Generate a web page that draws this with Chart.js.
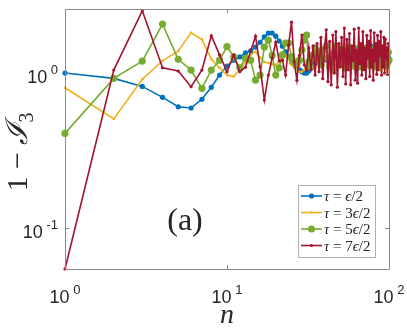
<!DOCTYPE html>
<html><head><meta charset="utf-8">
<script src="https://cdn.jsdelivr.net/npm/chart.js@4"></script>
<style>html,body{margin:0;padding:0;background:#fff;overflow:hidden}</style>
</head><body>
<canvas id="c" width="407" height="332" style="width:407px;height:332px;display:block"></canvas>
<script>
// ---- data ----
const n = Array.from({length: 100}, (_, i) => i + 1);

const tau1 = [1.00,0.924,0.82,0.697,0.606,0.595,0.677,0.809,0.97,1.11,
1.21,1.27,1.35,1.39,1.47,1.58,1.71,1.81,1.81,1.73,
1.61,1.49,1.37,1.27,1.18,1.13,1.09,1.05,1.02,1.00,
1.00,1.03,1.08,1.13,1.16,1.20,1.22,1.24,1.25,1.24,
1.22,1.20,1.18,1.20,1.24,1.28,1.30,1.27,1.22,1.17,
1.13,1.12,1.15,1.20,1.26,1.31,1.33,1.29,1.22,1.15,
1.10,1.08,1.07,1.08,1.10,1.12,1.10,1.08,1.10,1.15,
1.22,1.30,1.38,1.45,1.50,1.52,1.50,1.46,1.41,1.35,
1.30,1.26,1.25,1.27,1.30,1.28,1.24,1.20,1.18,1.17,
1.17,1.18,1.20,1.23,1.26,1.29,1.31,1.30,1.27,1.24];

const tau3 = [0.804,0.505,0.911,1.20,1.39,1.82,1.65,1.23,1.08,0.97,
0.95,1.06,1.17,1.31,1.37,1.26,1.18,1.16,1.14,1.13,
1.18,1.27,1.29,1.22,1.13,1.08,1.05,1.02,1.02,1.05,
1.12,1.20,1.26,1.30,1.27,1.20,1.14,1.18,1.25,1.30,
1.26,1.19,1.13,1.17,1.24,1.29,1.25,1.18,1.12,1.16,
1.23,1.28,1.24,1.16,1.10,1.14,1.21,1.27,1.23,1.15,
1.08,1.06,1.12,1.20,1.26,1.22,1.14,1.08,1.11,1.19,
1.27,1.30,1.24,1.16,1.10,1.14,1.22,1.28,1.25,1.17,
1.10,1.08,1.13,1.21,1.27,1.24,1.16,1.09,1.05,1.07,
1.14,1.22,1.27,1.23,1.15,1.08,1.05,1.10,1.18,1.24];

const tau5 = [0.408,0.924,1.195,2.07,1.226,1.045,0.797,1.045,1.21,1.48,
1.27,1.08,1.25,1.21,0.90,0.97,1.47,1.63,1.30,0.97,
1.08,1.31,1.56,1.56,1.27,1.18,1.13,1.21,1.41,1.63,
1.76,1.18,1.09,1.31,1.45,1.21,1.37,1.13,1.27,1.41,
1.50,1.25,1.10,1.15,1.05,1.35,1.48,1.30,1.12,1.24,
1.42,1.36,1.15,1.08,1.20,1.40,1.45,1.28,1.12,1.18,
1.35,1.44,1.30,1.14,1.10,1.26,1.42,1.38,1.20,1.12,
1.22,1.40,1.46,1.32,1.15,1.12,1.28,1.43,1.36,1.18,
1.10,1.20,1.38,1.45,1.30,1.14,1.16,1.34,1.44,1.32,
1.16,1.12,1.26,1.42,1.40,1.22,1.12,1.20,1.36,1.21];

const tau7 = [0.0544,1.045,2.52,1.08,1.03,0.816,1.045,1.74,1.31,1.02,
1.31,1.02,1.09,1.39,1.73,1.10,0.67,0.97,1.25,1.58,
1.20,1.21,0.97,1.52,2.13,1.18,0.90,1.30,1.76,1.13,
1.05,1.45,1.05,1.50,0.97,1.55,1.02,1.70,0.92,1.45,
1.90,0.88,1.60,0.84,1.76,1.00,1.85,0.81,1.55,1.10,
1.70,0.95,1.95,0.85,1.65,1.05,1.80,0.84,1.50,1.20,
1.92,0.90,1.40,0.86,1.95,1.15,1.55,0.97,1.85,1.05,
1.45,0.92,1.75,1.25,1.60,0.95,1.88,1.10,1.40,0.90,
1.82,1.20,1.55,0.98,1.75,1.05,1.60,1.30,1.85,0.97,
1.50,1.10,1.70,1.00,1.65,1.25,1.45,0.98,1.55,1.15];

const seriesNums = ['', '3', '5', '7'];
const colors = ['#0072BD', '#EDB120', '#77AC30', '#A2142F'];
const xTickVals = [1, 10, 100];
const xTickExps = ['0', '1', '2'];
const yTickVals = [0.1, 1];
const yTickExps = ['-1', '0'];
const yMin = 0.0544, yMax = 2.59;

// ---- build ----
const series = [tau1, tau3, tau5, tau7];
const radii = [2.6, 1.3, 3.6, 1.6];
const orders = [4, 3, 2, 1];
const datasets = series.map((s, k) => ({
  label: 'tau' + k,
  data: s.map((v, i) => ({x: n[i], y: v})),
  borderColor: colors[k],
  backgroundColor: colors[k],
  pointBackgroundColor: colors[k],
  pointBorderColor: colors[k],
  pointBorderWidth: 0,
  pointRadius: radii[k],
  borderWidth: 1.6,
  tension: 0,
  order: orders[k],
  clip: false
}));

const SANS = "'Liberation Sans', Arial, Helvetica, sans-serif";
const SERIF = "'Liberation Serif', 'DejaVu Serif', 'Times New Roman', serif";
const AXIS = '#8a8a8a';
const TXT = '#262626';

function drawSegs(ctx, segs, x, y) {
  let cx = x;
  for (const s of segs) {
    ctx.font = s.f;
    ctx.fillText(s.t, cx, y + (s.dy || 0));
    cx += ctx.measureText(s.t).width;
  }
  return cx;
}
function segsWidth(ctx, segs) {
  let w = 0;
  for (const s of segs) { ctx.font = s.f; w += ctx.measureText(s.t).width; }
  return w;
}

const decor = {
  id: 'decor',
  afterDraw(chart) {
    const ctx = chart.ctx, a = chart.chartArea;
    const xs = chart.scales.x, ys = chart.scales.y;
    ctx.save();
    // box
    ctx.strokeStyle = AXIS; ctx.lineWidth = 1;
    ctx.beginPath();
    ctx.rect(Math.round(a.left) + 0.5, Math.round(a.top) + 0.5,
             Math.round(a.right - a.left), Math.round(a.bottom - a.top));
    ctx.stroke();
    // ticks
    ctx.beginPath();
    xTickVals.forEach(v => {
      const px = Math.round(xs.getPixelForValue(v)) + 0.5;
      ctx.moveTo(px, a.bottom); ctx.lineTo(px, a.bottom - 4);
      ctx.moveTo(px, a.top); ctx.lineTo(px, a.top + 4);
    });
    yTickVals.forEach(v => {
      const py = Math.round(ys.getPixelForValue(v)) + 0.5;
      ctx.moveTo(a.left, py); ctx.lineTo(a.left + 4, py);
      ctx.moveTo(a.right, py); ctx.lineTo(a.right - 4, py);
    });
    ctx.stroke();

    // tick labels
    ctx.fillStyle = TXT; ctx.textAlign = 'left'; ctx.textBaseline = 'alphabetic';
    const bf = '18px ' + SANS, ef = '13px ' + SANS;
    xTickVals.forEach((v, i) => {
      const segs = [{t: '10', f: bf}, {t: ' ', f: ef}, {t: xTickExps[i], f: ef, dy: -9}];
      const w = segsWidth(ctx, segs);
      const px = xs.getPixelForValue(v);
      drawSegs(ctx, segs, px - w / 2, 303);
    });
    yTickVals.forEach((v, i) => {
      const segs = [{t: '10', f: bf}, {t: ' ', f: ef}, {t: yTickExps[i], f: ef, dy: -9}];
      const w = segsWidth(ctx, segs);
      const py = ys.getPixelForValue(v);
      drawSegs(ctx, segs, 58 - w, py + 10);
    });

    // x title
    ctx.font = 'italic 28px ' + SERIF;
    ctx.textAlign = 'center';
    ctx.fillText('n', xs.getPixelForValue(10), 323);

    // y title (rotated)
    ctx.save();
    ctx.translate(27, 152);
    ctx.rotate(-Math.PI / 2);
    ctx.textAlign = 'left';
    const ysegs = [
      {t: '1', f: '30px ' + SERIF},
      {t: ' \u2212 ', f: '30px ' + SERIF},
      {t: '\u2110', f: 'italic 30px ' + SERIF},
      {t: '3', f: '20px ' + SERIF, dy: 6}
    ];
    const yw = segsWidth(ctx, ysegs);
    drawSegs(ctx, ysegs, -yw / 2, 0);
    ctx.restore();

    // (a)
    ctx.font = '32px ' + SERIF;
    ctx.textAlign = 'center';
    ctx.fillText('(a)', 185, 230);

    // legend
    const lx = 298.5, ly = 185.5, lw = 77, lh = 72;
    ctx.fillStyle = '#ffffff';
    ctx.fillRect(lx, ly, lw, lh);
    ctx.strokeStyle = '#b0b0b0'; ctx.lineWidth = 1;
    ctx.strokeRect(lx, ly, lw, lh);
    const rowY = [196, 212.5, 229, 245.5];
    ctx.textAlign = 'left';
    for (let k = 0; k < 4; k++) {
      const y = rowY[k];
      ctx.strokeStyle = colors[k]; ctx.lineWidth = 1.6;
      ctx.beginPath(); ctx.moveTo(301, y); ctx.lineTo(322, y); ctx.stroke();
      ctx.fillStyle = colors[k];
      ctx.beginPath(); ctx.arc(311.5, y, radii[k], 0, Math.PI * 2); ctx.fill();
      ctx.fillStyle = TXT;
      const segs = [
        {t: '\u03C4', f: 'italic 15px ' + SERIF},
        {t: ' = ' + seriesNums[k], f: '15px ' + SERIF},
        {t: '\u03F5', f: 'italic 15px ' + SERIF},
        {t: '/2', f: '15px ' + SERIF}
      ];
      drawSegs(ctx, segs, 324, y + 5);
    }
    ctx.restore();
  }
};

new Chart(document.getElementById('c'), {
  type: 'line',
  data: {datasets},
  options: {
    responsive: false,
    animation: false,
    devicePixelRatio: 1,
    layout: {padding: {left: 65, top: 9, right: 18, bottom: 63}},
    plugins: {legend: {display: false}, tooltip: {enabled: false}},
    scales: {
      x: {type: 'logarithmic', min: 1, max: 100,
          ticks: {display: false}, grid: {display: false, drawTicks: false},
          border: {display: false}},
      y: {type: 'logarithmic', min: yMin, max: yMax,
          ticks: {display: false}, grid: {display: false, drawTicks: false},
          border: {display: false}}
    }
  },
  plugins: [decor]
});
</script>
</body></html>
